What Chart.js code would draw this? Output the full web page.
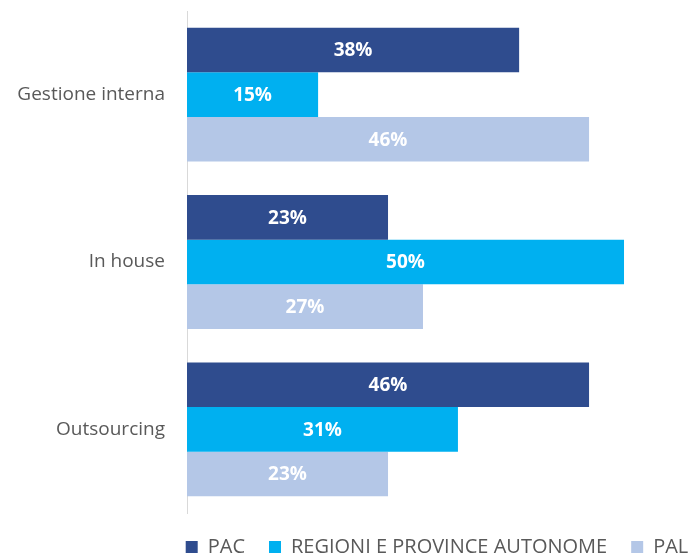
<!DOCTYPE html>
<html>
<head>
<meta charset="utf-8">
<script src="https://cdn.jsdelivr.net/npm/chart.js@4"></script>
<style>
  html, body { margin: 0; padding: 0; background: #fff; overflow: hidden; }
  #wrap { width: 860px; height: 567px; }
</style>
</head>
<body>
<div id="wrap"><canvas id="chart"></canvas></div>
<script>
const categories = ['Gestione interna', 'In house', 'Outsourcing'];
const seriesNames = ['PAC', 'REGIONI E PROVINCE AUTONOME', 'PAL'];
const pacValues = [38, 23, 46];
const regioniValues = [15, 50, 31];
const palValues = [46, 27, 23];
const colors = ['#2F4C8E', '#00B0F0', '#B4C7E7'];

// value labels drawn in the middle of each bar
const barLabels = {
  id: 'barLabels',
  afterDatasetsDraw(chart) {
    const ctx = chart.ctx;
    ctx.save();
    ctx.fillStyle = '#fff';
    ctx.font = 'bold 19px "Open Sans"';
    ctx.textAlign = 'center';
    ctx.textBaseline = 'middle';
    chart.data.datasets.forEach((ds, i) => {
      chart.getDatasetMeta(i).data.forEach((bar, j) => {
        const x = (bar.x + bar.base) / 2;
        ctx.fillText(ds.data[j] + '%', x, bar.y + 1);
      });
    });
    ctx.restore();
  },
};

const values = [pacValues, regioniValues, palValues];

new Chart(document.getElementById('chart'), {
  type: 'bar',
  data: {
    labels: categories,
    datasets: seriesNames.map((name, i) => ({
      label: name,
      data: values[i],
      backgroundColor: colors[i],
      borderWidth: 0,
      categoryPercentage: 0.8,
      barPercentage: 1.0,
    })),
  },
  options: {
    indexAxis: 'y',
    responsive: true,
    maintainAspectRatio: false,
    animation: false,
    layout: { autoPadding: false, padding: { top: 11, right: 0, left: 14, bottom: 0 } },
    plugins: {
      tooltip: { enabled: false },
      legend: {
        position: 'bottom',
        labels: {
          color: '#595959',
          font: { family: '"Open Sans"', size: 20 },
          boxWidth: 12,
          boxHeight: 12,
          padding: 24,
        },
      },
    },
    scales: {
      x: {
        display: false,
        min: 0,
        max: 77,
      },
      y: {
        grid: { display: true, drawOnChartArea: false, drawTicks: false },
        border: { color: '#d9d9d9', width: 1 },
        ticks: {
          color: '#595959',
          font: { family: '"Open Sans"', size: 19 },
          padding: 22,
        },
        afterFit: (scale) => {
          scale.width = 173;
          scale.paddingTop = 0;
          scale.paddingBottom = 0;
        },
      },
    },
  },
  plugins: [barLabels],
});
</script>
</body>
</html>
